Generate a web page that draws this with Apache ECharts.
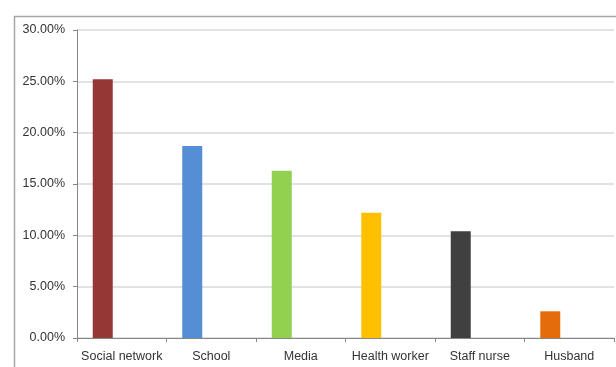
<!DOCTYPE html>
<html>
<head>
<meta charset="utf-8">
<script src="https://cdn.jsdelivr.net/npm/echarts@6/dist/echarts.min.js"></script>
<style>
html,body{margin:0;padding:0;background:#fff;}
#c{width:616px;height:367px;}
</style>
</head>
<body>
<div id="c"></div>
<script>
const categories = ['Social network', 'School', 'Media', 'Health worker', 'Staff nurse', 'Husband'];
const values = [25.2, 18.7, 16.3, 12.2, 10.4, 2.6];
const emptySeries = [null, null, null, null, null, null];
const barColors = ['#953735', '#558ED5', '#92D050', '#FFC000', '#404040', '#E46C0A'];
const yTicks = { min: 0, max: 30, interval: 5 };

const chart = echarts.init(document.getElementById('c'), null, { renderer: 'canvas' });
chart.setOption({
  animation: false,
  backgroundColor: '#ffffff',
  textStyle: { fontFamily: 'Liberation Sans' },
  graphic: [{
    type: 'rect',
    left: 12, top: 14,
    shape: { width: 640, height: 400 },
    style: { fill: 'none', stroke: '#a6a6a6', lineWidth: 1.5 },
    silent: true, z: -1
  }],
  grid: { left: 77, right: 2, top: 30, bottom: 29, containLabel: false },
  xAxis: {
    type: 'category',
    data: categories,
    axisLine: { lineStyle: { color: '#868686', width: 1 } },
    axisTick: { show: true, length: 4, alignWithLabel: false, lineStyle: { color: '#868686' } },
    axisLabel: { color: '#333333', fontSize: 12.5, margin: 12, interval: 0 },
    splitLine: { show: false }
  },
  yAxis: {
    type: 'value',
    min: yTicks.min, max: yTicks.max, interval: yTicks.interval,
    axisLine: { show: true, lineStyle: { color: '#868686', width: 1 } },
    axisTick: { show: true, length: 4, lineStyle: { color: '#868686' } },
    axisLabel: { color: '#333333', fontSize: 12.5, margin: 12, formatter: v => v.toFixed(2) + '%' },
    splitLine: { lineStyle: { color: '#d9d9d9', width: 1.5 } }
  },
  series: [{
    type: 'bar',
    data: values,
    barWidth: 20,
    barGap: '90%',
    itemStyle: { color: p => barColors[p.dataIndex] }
  }, {
    type: 'bar',
    data: emptySeries,
    barWidth: 20
  }]
});
</script>
</body>
</html>
